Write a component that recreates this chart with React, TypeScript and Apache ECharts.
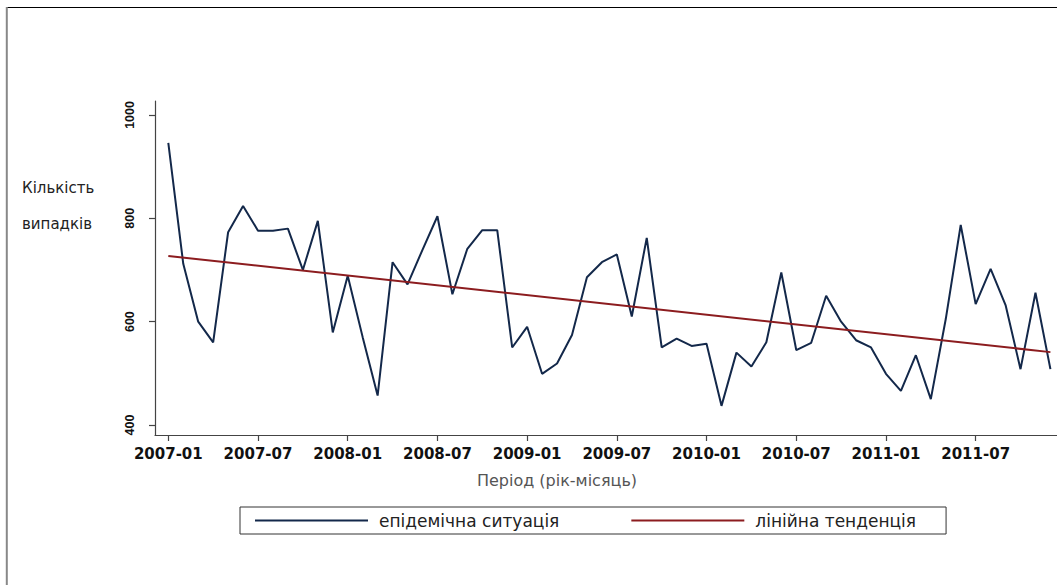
import React, { useEffect, useRef } from "react";
import * as echarts from "echarts";

// Monthly case counts, 2007-01 .. 2011-12 (index 0 = 2007-01)
const cases: number[] = [
  946, 712, 600, 560, 773, 824, 776, 776, 780, 700, 795, 579,
  689, 570, 457, 715, 672, 739, 804, 653, 741, 777, 777, 550,
  590, 499, 519, 574, 686, 715, 730, 610, 762, 550, 567, 553,
  557, 437, 540, 513, 560, 695, 545, 559, 650, 600, 564, 550,
  499, 466, 535, 450, 605, 787, 634, 702, 632, 508, 656, 508,
];

// Linear trend end points (first and last month)
const trendIndex: number[] = [0, 59];
const trendValues: number[] = [727, 541];

const tickIndices: number[] = [0, 6, 12, 18, 24, 30, 36, 42, 48, 54];
const tickLabels: string[] = [
  "2007-01", "2007-07", "2008-01", "2008-07", "2009-01",
  "2009-07", "2010-01", "2010-07", "2011-01", "2011-07",
];
const yTicks: number[] = [400, 600, 800, 1000];

const seriesNames: string[] = ["епідемічна ситуація", "лінійна тенденція"];
const yNameLines: string[] = ["Кількість", "випадків"];
const xName = "Період (рік-місяць)";

export default function App() {
  const ref = useRef<HTMLDivElement>(null);
  useEffect(() => {
    if (!ref.current) return;
    const chart = echarts.init(ref.current, undefined, { renderer: "svg" });
    const option: any = {
      animation: false,
      backgroundColor: "#ffffff",
      grid: { left: 155, right: 0, top: 101, bottom: 150 },
      xAxis: {
        type: "value",
        min: -0.89,
        max: 59.44,
        splitLine: { show: false },
        axisLine: { show: true, onZero: false, lineStyle: { color: "#444", width: 1.2 } },
        axisTick: {
          show: true,
          length: 6,
          customValues: tickIndices,
          lineStyle: { color: "#444", width: 1.2 },
        },
        axisLabel: {
          customValues: tickIndices,
          margin: 11,
          fontFamily: "DejaVu Sans",
          fontWeight: "bold",
          fontSize: 15,
          color: "#111",
          formatter: (v: number) => {
            const k = tickIndices.indexOf(Math.round(v));
            return k >= 0 ? tickLabels[k] : "";
          },
        },
      },
      yAxis: {
        type: "value",
        min: 380.6,
        max: 1027,
        splitLine: { show: false },
        axisLine: { show: true, onZero: false, lineStyle: { color: "#444", width: 1.2 } },
        axisTick: {
          show: true,
          length: 6,
          customValues: yTicks,
          lineStyle: { color: "#444", width: 1.2 },
        },
        axisLabel: {
          customValues: yTicks,
          rotate: 90,
          margin: 19,
          fontFamily: "Liberation Sans",
          fontWeight: "bold",
          fontSize: 12.5,
          color: "#111",
          formatter: (v: number) => String(Math.round(v)),
        },
      },
      legend: {
        left: 240,
        top: 507,
        orient: "horizontal",
        icon: "rect",
        itemWidth: 113,
        itemHeight: 2,
        itemGap: 72,
        padding: [5, 30, 5, 15],
        borderColor: "#333",
        borderWidth: 1,
        backgroundColor: "#fff",
        data: seriesNames,
        textStyle: {
          fontFamily: "DejaVu Sans",
          fontSize: 17,
          color: "#222",
          padding: [0, 0, 0, 6],
        },
      },
      series: [
        {
          name: seriesNames[0],
          type: "line",
          symbol: "none",
          data: cases.map((v, i) => [i, v]),
          lineStyle: { color: "#13284a", width: 2 },
          itemStyle: { color: "#13284a" },
          z: 2,
        },
        {
          name: seriesNames[1],
          type: "line",
          symbol: "none",
          data: trendIndex.map((x, i) => [x, trendValues[i]]),
          lineStyle: { color: "#8c1c1f", width: 2 },
          itemStyle: { color: "#8c1c1f" },
          z: 3,
        },
      ],
      graphic: [
        {
          type: "line",
          shape: { x1: 7, y1: 7.5, x2: 1057, y2: 7.5 },
          style: { stroke: "#000", lineWidth: 1.2 },
        },
        {
          type: "line",
          shape: { x1: 6.8, y1: 7, x2: 6.8, y2: 585 },
          style: { stroke: "#888", lineWidth: 2 },
        },
        {
          type: "text",
          left: 22,
          top: 180,
          style: {
            text: yNameLines[0],
            fontFamily: "DejaVu Sans",
            fontSize: 15,
            fill: "#222",
          },
        },
        {
          type: "text",
          left: 22,
          top: 216,
          style: {
            text: yNameLines[1],
            fontFamily: "DejaVu Sans",
            fontSize: 15,
            fill: "#222",
          },
        },
        {
          type: "text",
          x: 557,
          y: 480,
          style: {
            text: xName,
            fontFamily: "DejaVu Sans",
            fontSize: 16,
            fill: "#555",
            align: "center",
            verticalAlign: "middle",
          },
        },
      ],
    };
    chart.setOption(option);
    return () => chart.dispose();
  }, []);
  return (
    <div
      ref={ref}
      style={{ position: "absolute", left: 0, top: 0, width: 1057, height: 585 }}
    />
  );
}
